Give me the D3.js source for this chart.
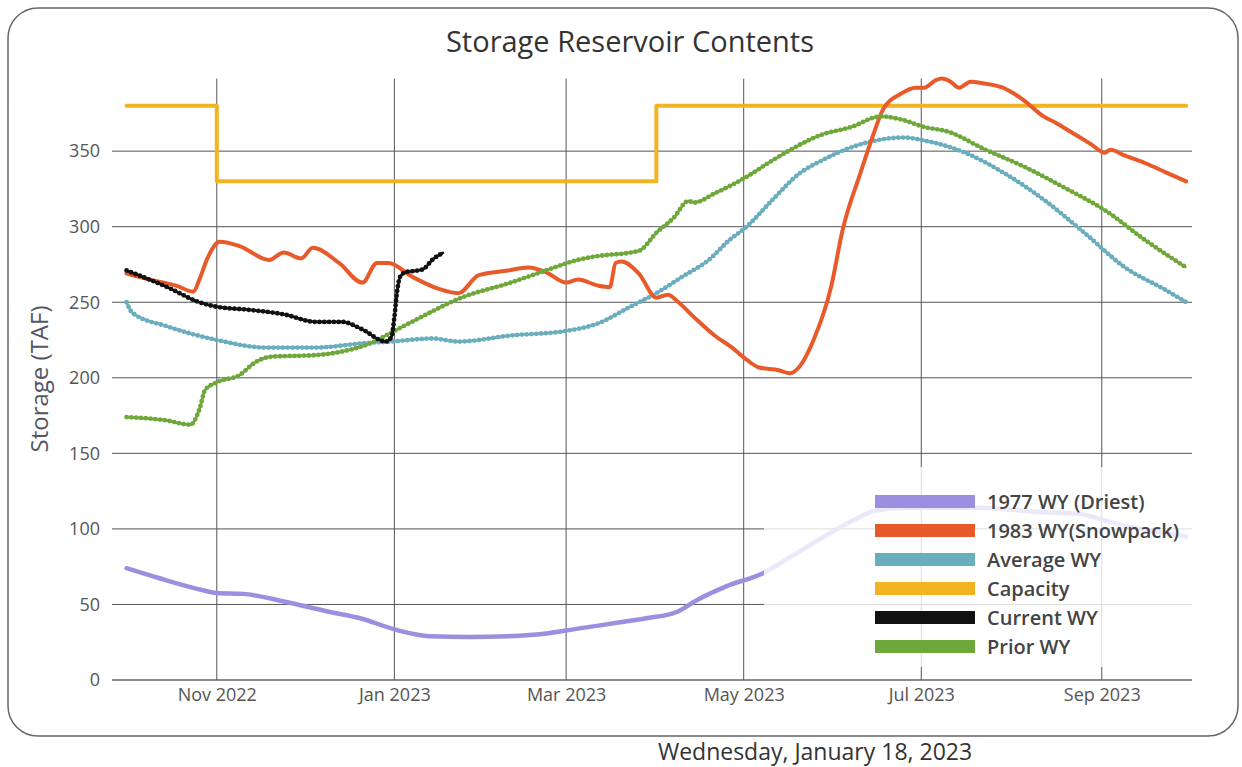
<!DOCTYPE html>
<html>
<head>
<meta charset="utf-8">
<script src="https://cdn.jsdelivr.net/npm/d3@7"></script>
<style>
  body { margin: 0; background: #fff; }
  svg { display: block; font-family: "Open Sans", "Noto Sans", sans-serif; }
</style>
</head>
<body>
<script>
// series: [date, storage TAF]
var driest1977 = [
  ["2022-10-01", 74], ["2022-10-12", 67.5], ["2022-10-26", 60], ["2022-11-01", 57.6],
  ["2022-11-10", 57], ["2022-11-24", 52], ["2022-12-10", 45], ["2022-12-20", 41],
  ["2023-01-02", 33], ["2023-01-13", 29], ["2023-01-27", 28.5], ["2023-02-09", 29],
  ["2023-02-23", 31], ["2023-03-05", 34], ["2023-03-19", 38], ["2023-03-29", 41],
  ["2023-04-08", 45], ["2023-04-15", 53], ["2023-04-25", 62], ["2023-05-08", 71],
  ["2023-05-15", 79], ["2023-05-27", 93], ["2023-06-08", 106], ["2023-06-15", 112],
  ["2023-06-26", 114], ["2023-07-20", 114], ["2023-08-12", 111], ["2023-08-24", 110],
  ["2023-09-05", 104], ["2023-09-17", 99], ["2023-09-30", 95]
];
var snowpack1983 = [
  ["2022-10-01", 269], ["2022-10-09", 265], ["2022-10-18", 261], ["2022-10-24", 257],
  ["2022-10-26", 265], ["2022-10-29", 280], ["2022-11-02", 290], ["2022-11-09", 287],
  ["2022-11-19", 278], ["2022-11-24", 283], ["2022-11-30", 279], ["2022-12-04", 286],
  ["2022-12-13", 276], ["2022-12-21", 263], ["2022-12-26", 276], ["2022-12-30", 276],
  ["2023-01-07", 267], ["2023-01-16", 259], ["2023-01-23", 256], ["2023-01-30", 268],
  ["2023-02-09", 271], ["2023-02-16", 273], ["2023-02-22", 270], ["2023-03-01", 263],
  ["2023-03-05", 265], ["2023-03-12", 261], ["2023-03-16", 260], ["2023-03-18", 276],
  ["2023-03-20", 277], ["2023-03-26", 269], ["2023-04-01", 253], ["2023-04-05", 255],
  ["2023-04-08", 251], ["2023-04-14", 240], ["2023-04-21", 228], ["2023-04-27", 220],
  ["2023-05-02", 212], ["2023-05-06", 207], ["2023-05-13", 205], ["2023-05-17", 203],
  ["2023-05-20", 207], ["2023-05-25", 225], ["2023-05-31", 260], ["2023-06-04", 298],
  ["2023-06-10", 335], ["2023-06-14", 358], ["2023-06-18", 378], ["2023-06-24", 388],
  ["2023-06-29", 392], ["2023-07-02", 392], ["2023-07-06", 397], ["2023-07-08", 398],
  ["2023-07-11", 396], ["2023-07-14", 392], ["2023-07-18", 396], ["2023-07-22", 395],
  ["2023-07-29", 392], ["2023-08-05", 384], ["2023-08-12", 373], ["2023-08-16", 369],
  ["2023-08-22", 362], ["2023-08-28", 355], ["2023-09-02", 349], ["2023-09-04", 351],
  ["2023-09-09", 347], ["2023-09-16", 342], ["2023-09-23", 336], ["2023-09-30", 330]
];
var averageWY = [
  ["2022-10-01", 250], ["2022-10-03", 243], ["2022-10-15", 234], ["2022-11-01", 225],
  ["2022-11-18", 220], ["2022-12-05", 220], ["2022-12-22", 223], ["2022-12-31", 224],
  ["2023-01-14", 226], ["2023-01-23", 224], ["2023-02-10", 228], ["2023-03-01", 231],
  ["2023-03-12", 236], ["2023-03-23", 247], ["2023-04-01", 256], ["2023-04-10", 267],
  ["2023-04-19", 278], ["2023-04-26", 291], ["2023-05-02", 300], ["2023-05-11", 318],
  ["2023-05-20", 335], ["2023-05-28", 344], ["2023-06-11", 355], ["2023-06-25", 359],
  ["2023-07-02", 357], ["2023-07-16", 349], ["2023-07-29", 336], ["2023-08-12", 318],
  ["2023-08-26", 296], ["2023-09-09", 273], ["2023-09-23", 258], ["2023-09-30", 250]
];
var capacity = [
  ["2022-10-01", 380], ["2022-11-01", 330], ["2023-04-01", 380], ["2023-09-30", 380]
];
var currentWY = [
  ["2022-10-01", 271], ["2022-10-15", 260], ["2022-10-26", 250], ["2022-11-01", 247],
  ["2022-11-12", 245], ["2022-11-24", 242], ["2022-12-05", 237], ["2022-12-14", 237],
  ["2022-12-21", 232], ["2022-12-29", 224], ["2022-12-31", 227], ["2023-01-01", 240],
  ["2023-01-02", 258], ["2023-01-03", 267], ["2023-01-05", 270], ["2023-01-09", 271],
  ["2023-01-11", 272], ["2023-01-14", 278], ["2023-01-18", 283]
];
var priorWY = [
  ["2022-10-01", 174], ["2022-10-14", 172], ["2022-10-23", 169], ["2022-10-26", 179],
  ["2022-10-28", 192], ["2022-11-01", 197], ["2022-11-09", 202], ["2022-11-14", 210],
  ["2022-11-20", 214], ["2022-12-05", 215], ["2022-12-13", 217], ["2022-12-24", 223],
  ["2022-12-31", 230], ["2023-01-08", 238], ["2023-01-24", 253], ["2023-02-10", 263],
  ["2023-02-22", 271], ["2023-03-05", 278], ["2023-03-10", 280], ["2023-03-26", 284],
  ["2023-04-01", 296], ["2023-04-07", 306], ["2023-04-12", 317], ["2023-04-14", 316],
  ["2023-04-21", 322], ["2023-05-02", 333], ["2023-05-11", 344], ["2023-05-28", 361],
  ["2023-06-07", 366], ["2023-06-17", 373], ["2023-06-24", 371], ["2023-07-02", 366],
  ["2023-07-10", 363], ["2023-07-23", 351], ["2023-08-05", 340], ["2023-08-19", 326],
  ["2023-09-02", 311], ["2023-09-16", 291], ["2023-09-30", 273]
];

var yTicks = [0, 50, 100, 150, 200, 250, 300, 350];
var seriesNames = ["1977 WY (Driest)", "1983 WY(Snowpack)", "Average WY", "Capacity", "Current WY", "Prior WY"];
var seriesColors = ["#9d8fe0", "#e85a2a", "#6aaebd", "#f2b322", "#111111", "#6fa83a"];
var titleText = "Storage Reservoir Contents";
var dateText = "Wednesday, January 18, 2023";

var W = 1242, H = 767;
var parse = d3.timeParse("%Y-%m-%d");

var svg = d3.select("body").append("svg").attr("width", W).attr("height", H);

// outer rounded frame
svg.append("rect")
    .attr("x", 8).attr("y", 8).attr("width", 1230).attr("height", 728).attr("rx", 30)
    .attr("fill", "#fff").attr("stroke", "#666").attr("stroke-width", 1.5);

var x = d3.scaleTime().domain([parse("2022-09-26"), parse("2023-10-02")]).range([112, 1192]),
    y = d3.scaleLinear().domain([0, 400]).range([680, 75.6]);

var grid = svg.append("g");
grid.selectAll("line.h").data(yTicks).enter().append("line")
    .attr("x1", 112).attr("x2", 1192)
    .attr("y1", d => y(d)).attr("y2", d => y(d))
    .attr("stroke", d => d === 0 ? "#666" : "#555")
    .attr("stroke-width", d => d === 0 ? 1.6 : 1);

var xTicks = x.ticks(d3.timeMonth.every(2));
grid.selectAll("line.v").data(xTicks).enter().append("line")
    .attr("x1", d => x(d)).attr("x2", d => x(d))
    .attr("y1", y(398)).attr("y2", y(0))
    .attr("stroke", "#555").attr("stroke-width", 1);

svg.append("g").attr("transform", "translate(112,0)")
    .call(d3.axisLeft(y).tickValues(yTicks).tickSize(0).tickPadding(12));
svg.append("g").attr("transform", "translate(0,680)")
    .call(d3.axisBottom(x).tickValues(xTicks).tickFormat(d3.timeFormat("%b %Y")).tickSize(0).tickPadding(8));
svg.selectAll(".domain").remove();
svg.selectAll(".tick text").attr("font-size", 18).attr("fill", "#555")
    .attr("font-family", "'Open Sans', sans-serif");

var line = d3.line().x(d => x(parse(d[0]))).y(d => y(d[1])).curve(d3.curveMonotoneX);
var stepLine = d3.line().x(d => x(parse(d[0]))).y(d => y(d[1])).curve(d3.curveStepAfter);

var plot = svg.append("g").attr("fill", "none");

function solid(data, color, w, fn) {
  plot.append("path").attr("d", (fn || line)(data))
      .attr("stroke", color).attr("stroke-width", w)
      .attr("stroke-linejoin", "round").attr("stroke-linecap", "round");
}
// beaded look: thin line plus a row of round dots
function beaded(data, color) {
  plot.append("path").attr("d", line(data))
      .attr("stroke", color).attr("stroke-width", 2.6).attr("stroke-linejoin", "round");
  plot.append("path").attr("d", line(data))
      .attr("stroke", color).attr("stroke-width", 4.8)
      .attr("stroke-linecap", "round").attr("stroke-dasharray", "0 4.8");
}

solid(capacity, seriesColors[3], 4, stepLine);
solid(driest1977, seriesColors[0], 4.5);
beaded(averageWY, seriesColors[2]);
solid(snowpack1983, seriesColors[1], 4);
beaded(priorWY, seriesColors[5]);
beaded(currentWY, seriesColors[4]);

// legend, semi transparent over the plot
var legend = svg.append("g");
legend.append("rect")
    .attr("x", 764).attr("y", 467).attr("width", 428).attr("height", 200)
    .attr("fill", "rgba(255,255,255,0.8)");
var items = legend.selectAll("g.item").data(seriesNames).enter().append("g")
    .attr("transform", (d, i) => "translate(875," + (502 + i * 29) + ")");
items.append("rect").attr("x", 0).attr("y", -7).attr("width", 100).attr("height", 13)
    .attr("fill", (d, i) => seriesColors[i]);
items.append("text").attr("x", 112).attr("y", 0).attr("dy", "0.35em")
    .attr("font-size", 20).attr("font-weight", 600).attr("fill", "#444")
    .text(d => d);

svg.append("text").attr("x", 630).attr("y", 52).attr("text-anchor", "middle")
    .attr("font-size", 29).attr("fill", "#333").text(titleText);

svg.append("text")
    .attr("transform", "translate(48,379) rotate(-90)")
    .attr("text-anchor", "middle").attr("font-size", 24).attr("fill", "#556")
    .text("Storage (TAF)");

svg.append("text").attr("x", 815).attr("y", 760).attr("text-anchor", "middle")
    .attr("font-size", 23).attr("fill", "#333").text(dateText);
</script>
</body>
</html>
